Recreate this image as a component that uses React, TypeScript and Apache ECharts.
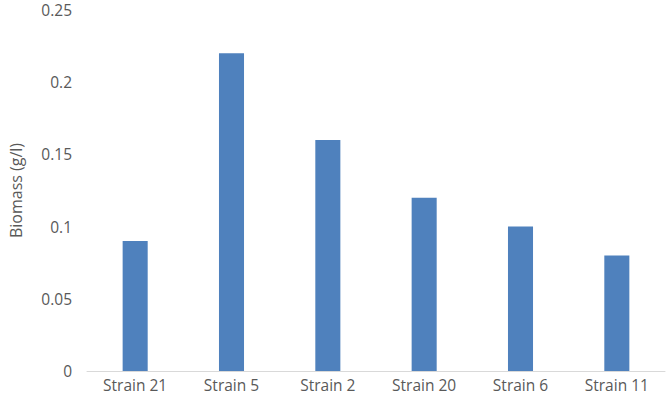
import React, { useEffect, useRef } from "react";
import * as echarts from "echarts";

const categories = ["Strain 21", "Strain 5", "Strain 2", "Strain 20", "Strain 6", "Strain 11"];
const biomass = [0.09, 0.22, 0.16, 0.12, 0.1, 0.08];
const yAxisTitle = "Biomass (g/l)";

export default function App() {
  const ref = useRef<HTMLDivElement>(null);
  useEffect(() => {
    if (!ref.current) return;
    const chart = echarts.init(ref.current, undefined, { renderer: "svg" });
    const font = "Open Sans, Liberation Sans, sans-serif";
    chart.setOption({
      animation: false,
      backgroundColor: "#ffffff",
      grid: { left: 75, right: 1, top: 10, bottom: 34, containLabel: false },
      xAxis: {
        type: "category",
        data: categories,
        axisLine: { show: true, lineStyle: { color: "#d9d9d9", width: 1 } },
        axisTick: { show: false },
        axisLabel: { color: "#595959", fontSize: 15.5, fontFamily: font, margin: 6 },
      },
      yAxis: {
        type: "value",
        min: 0,
        max: 0.25,
        interval: 0.05,
        name: yAxisTitle,
        nameLocation: "middle",
        nameGap: 63,
        nameTextStyle: { color: "#595959", fontSize: 16, fontFamily: font },
        axisLine: { show: false },
        axisTick: { show: false },
        splitLine: { show: false },
        axisLabel: {
          color: "#595959",
          fontSize: 15.5,
          lineHeight: 16,
          fontFamily: font,
          margin: 15,
        },
      },
      series: [
        {
          type: "bar",
          data: biomass,
          barWidth: "26%",
          itemStyle: { color: "#4f81bd" },
        },
      ],
    });
    return () => chart.dispose();
  }, []);
  return (
    <div
      ref={ref}
      style={{ position: "absolute", left: 0, top: 0, width: 666, height: 405 }}
    />
  );
}
